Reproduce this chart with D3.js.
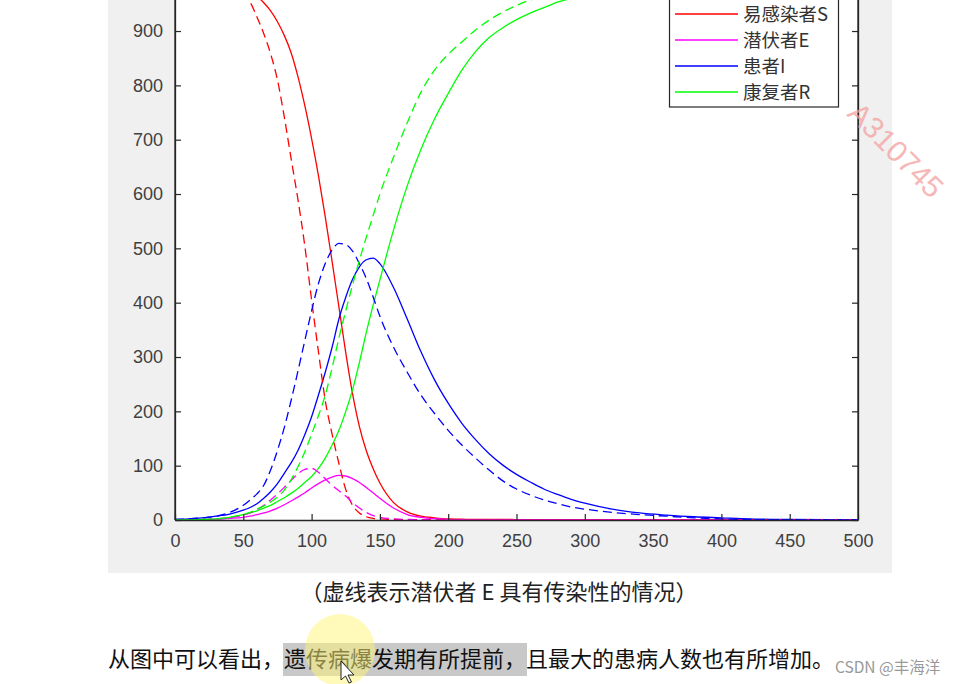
<!DOCTYPE html>
<html>
<head>
<meta charset="utf-8">
<script src="https://cdn.jsdelivr.net/npm/d3@7"></script>
<style>
html,body{margin:0;padding:0;background:#fff;}
svg{display:block;}
</style>
</head>
<body>
<svg id="c" width="962" height="684"></svg>
<script>
// ---- data ----
const times = [0,10,20,30,40,50,55,60,65,70,75,80,85,90,95,100,105,110,115,120,125,130,135,140,145,150,160,170,180,190,200,210,220,230,240,250,260,270,280,290,300,320,340,360,380,400,420,450,500];
// solid: E not infectious
const S1 = [999,998,997,994,988,978,972,964,952,937,917,892,860,816,763,702,634,558,476,392,308,232,172,128,95,68,32,15,7,4,2,1.5,1,1,1,0.8,0.7,0.6,0.5,0.5,0.5,0.5,0.5,0.5,0.5,0.5,0.5,0.5,0.5];
const E1 = [0,0.3,0.7,1.5,3,5,7,10,13,17,22,28,35,42,50,59,67,74,79,82,81,76,69,60,50,40,22,10,5,2.5,1.2,0.6,0.3,0,0,0,0,0,0,0,0,0,0,0,0,0,0,0,0];
const I1 = [1,2,4,7,11,18,23,30,40,52,67,86,105,128,157,190,230,272,318,370,410,443,466,479,482,472,428,370,310,258,215,178,148,122,101,84,70,57,47,38,31,20,13,9,6,4,2,1,0.5];
const R1 = [0,0,1,2,5,10,13,17,22,27,34,41,49,58,69,80,95,114,138,165,200,240,290,345,395,442,534,615,682,738,785,828,862,888,906,921,933,943,953,960,966,976,983,988,991,994,995,997,998];
// dashed: E infectious
const S2 = [999,998,996,992,984,968,953,926,895,858,810,742,665,590,505,405,310,220,158,104,56,27,13,6,3,2,1,0.5,0.5,0.5,0.5,0.5,0.5,0.5,0.5,0.5,0.5,0.5,0.5,0.5,0.5,0.5,0.5,0.5,0.5,0.5,0.5,0.5,0.5];
const E2 = [0,0.3,0.8,2,4,9,13,19,27,37,48,60,73,85,93,95,88,76,64,54,44,32,22,14,8,5,2,1,0.5,0,0,0,0,0,0,0,0,0,0,0,0,0,0,0,0,0,0,0,0];
const I2 = [1,2,4,7,14,27,37,48,64,92,128,170,220,274,330,385,435,472,497,509,507,495,472,445,411,375,318,272,230,196,165,138,114,92,72,57,46,37,30,24,20,14,10,7,4,2,1,0.5,0.3];
const R2 = [0,0,1,2,5,10,14,20,26,33,42,55,74,98,125,158,192,230,280,335,385,433,478,520,560,600,668,731,787,828,857,880,902,920,935,947,957,964,970,975,979,985,989,992,995,996,997,998,999];

const xTicks = [0,50,100,150,200,250,300,350,400,450,500];
const yTicks = [0,100,200,300,400,500,600,700,800,900];
const legendLabels = ["易感染者S","潜伏者E","患者I","康复者R"];
const seriesColors = ["#ff0000","#ff00ff","#0000ff","#00ff00"];
const caption = "（虚线表示潜伏者 E 具有传染性的情况）";
const paraBefore = "从图中可以看出，";
const paraHigh = "遗传病爆发期有所提前，";
const paraAfter = "且最大的患病人数也有所增加。";
const credit = "CSDN @丰海洋";
const watermark = "A310745";

// ---- drawing ----
const svg = d3.select("#c");
const FONT = "'Liberation Sans', Arial, Helvetica, sans-serif";
const CJK = "'Noto Sans CJK SC', 'Noto Sans', sans-serif";

// figure grey panel
svg.append("rect").attr("x",108).attr("y",0).attr("width",784).attr("height",573).attr("fill","#f0f0f0");

const x = d3.scaleLinear().domain([0,500]).range([175,858]);
const y = d3.scaleLinear().domain([0,1000]).range([520,-23.3]);

// plot area
svg.append("rect").attr("x",175).attr("y",-30).attr("width",683).attr("height",550).attr("fill","#fff");

svg.append("defs").append("clipPath").attr("id","clip")
  .append("rect").attr("x",175).attr("y",-30).attr("width",683).attr("height",550);

const plot = svg.append("g").attr("clip-path","url(#clip)");
const line = d3.line().x((d,i)=>x(times[i])).y(d=>y(d)).curve(d3.curveMonotoneX);

const solid = [S1,E1,I1,R1];
const dashed = [S2,E2,I2,R2];
solid.forEach((s,k)=>{
  plot.append("path").datum(s).attr("d",line).attr("fill","none")
    .attr("stroke",seriesColors[k]).attr("stroke-width",1.3);
});
dashed.forEach((s,k)=>{
  plot.append("path").datum(s).attr("d",line).attr("fill","none")
    .attr("stroke",seriesColors[k]).attr("stroke-width",1.3).attr("stroke-dasharray","9,5");
});

// axes
const axCol = "#262626";
const gx = svg.append("g").attr("transform","translate(0,520)")
  .call(d3.axisBottom(x).tickValues(xTicks).tickSizeInner(-6).tickSizeOuter(0).tickPadding(14));
const gy = svg.append("g").attr("transform","translate(175,0)")
  .call(d3.axisLeft(y).tickValues(yTicks).tickSizeInner(-6).tickSizeOuter(0).tickPadding(12));
const gr = svg.append("g").attr("transform","translate(858,0)")
  .call(d3.axisRight(y).tickValues(yTicks).tickSizeInner(-6).tickSizeOuter(0).tickFormat(""));
[gx,gy,gr].forEach(g=>{
  g.select(".domain").attr("stroke",axCol).attr("stroke-width",1.3);
  g.selectAll(".tick line").attr("stroke",axCol).attr("stroke-width",1.2);
  g.selectAll("text").attr("fill","#404040").attr("font-family",FONT).attr("font-size",18);
});
// axis lines continue to the top edge
gy.append("line").attr("x1",0).attr("x2",0).attr("y1",-30).attr("y2",520).attr("stroke",axCol).attr("stroke-width",1.3);
gr.append("line").attr("x1",0).attr("x2",0).attr("y1",-30).attr("y2",520).attr("stroke",axCol).attr("stroke-width",1.3);

// legend
const lg = svg.append("g");
lg.append("rect").attr("x",669.5).attr("y",-10).attr("width",169).attr("height",117)
  .attr("fill","#fff").attr("stroke",axCol).attr("stroke-width",1.2);
legendLabels.forEach((lab,i)=>{
  const yy = 14 + i*26;
  lg.append("line").attr("x1",675).attr("x2",738).attr("y1",yy).attr("y2",yy)
    .attr("stroke",seriesColors[i]).attr("stroke-width",1.3);
  lg.append("text").attr("x",743).attr("y",yy).attr("dy","0.36em")
    .attr("font-family",CJK).attr("font-size",18.5).attr("fill","#333").text(lab);
});

// watermark
svg.append("text").attr("transform","translate(896,150) rotate(45)")
  .attr("text-anchor","middle").attr("dy","0.35em")
  .attr("font-family",FONT).attr("font-size",30).attr("fill","#f4a0a0").attr("opacity",0.75)
  .text(watermark);

// caption
svg.append("text").attr("x",499).attr("y",592).attr("dy","0.36em").attr("text-anchor","middle")
  .attr("font-family",CJK).attr("font-size",22).attr("fill","#222").text(caption);

// highlight
svg.append("rect").attr("x",283).attr("y",643).attr("width",244).attr("height",33).attr("fill","#c8c8c8");
const para = svg.append("text").attr("x",108).attr("y",659).attr("dy","0.36em")
  .attr("font-family",CJK).attr("font-size",22).attr("fill","#111");
para.append("tspan").text(paraBefore);
para.append("tspan").text(paraHigh);
para.append("tspan").text(paraAfter);

svg.append("ellipse").attr("cx",340).attr("cy",650).attr("rx",35).attr("ry",36)
  .attr("fill","#fff576").attr("opacity",0.5);

// cursor
svg.append("path").attr("d","M341,661 L341,680 L345.5,676 L349,683 L351.5,682 L348,675 L354,675 Z")
  .attr("fill","#fff").attr("stroke","#222").attr("stroke-width",1);

svg.append("text").attr("x",835).attr("y",667).attr("dy","0.36em")
  .attr("font-family",CJK).attr("font-size",15.5).attr("fill","#999").text(credit);
</script>
</body>
</html>
